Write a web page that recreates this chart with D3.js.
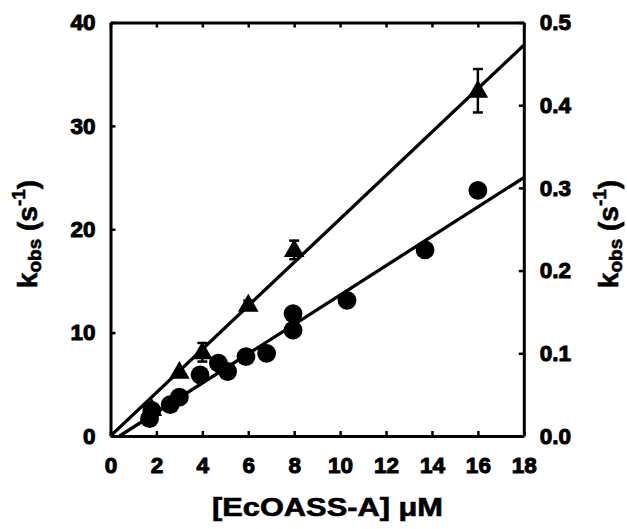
<!DOCTYPE html>
<html><head><meta charset="utf-8">
<script src="https://cdn.jsdelivr.net/npm/d3@7"></script>
<style>
html,body{margin:0;padding:0;background:#fff;}
text{font-family:"Liberation Sans",Arial,sans-serif;font-weight:bold;}
</style></head>
<body><svg id="c" width="627" height="529"></svg>
<script>
// ---- data ----
const xTicks = [0,2,4,6,8,10,12,14,16,18];
const yLeftTicks = [0,10,20,30,40];
const yRightTicks = [0,0.1,0.2,0.3,0.4,0.5];
// triangles (left axis, s^-1)
const triX = [1.8, 3.0, 4.0, 6.0, 8.0, 16.0];
const triY = [2.6, 6.2, 8.1, 12.7, 18.0, 33.4];
const triErr = [0, 0, 0.9, 0.4, 0.9, 2.1];
// circles (right axis, s^-1)
const circX = [1.7, 1.8, 2.6, 3.0, 3.9, 4.7, 5.1, 5.9, 6.8, 7.95, 7.95, 10.3, 13.7, 16.0];
const circY = [0.021, 0.031, 0.038, 0.047, 0.074, 0.088, 0.078, 0.096, 0.100, 0.128, 0.148, 0.164, 0.225, 0.297];
// linear fits
const triFit = [[0, 0], [18, 37.8]];
const circFit = [[0.4, 0], [18, 0.3125]];

const svg = d3.select("#c");
const L = 110.5, R = 523.8, T = 22.5, B = 436;
const x = d3.scaleLinear().domain([0,18]).range([L,R]);
const yL = d3.scaleLinear().domain([0,40]).range([B,T]);
const yR = d3.scaleLinear().domain([0,0.5]).range([B,T]);

const fs = 22.5;
function heavy(sel, w){ sel.attr("stroke","#000").attr("stroke-width",w||1).attr("paint-order","stroke"); }
function styleAxis(g){
  g.selectAll(".domain").attr("stroke","#000").attr("stroke-width",3);
  g.selectAll(".tick line").attr("stroke","#000").attr("stroke-width",2.5);
  g.selectAll("text").attr("font-size",fs).attr("font-family","Liberation Sans, Arial, sans-serif").attr("font-weight","bold").attr("fill","#000").call(heavy, 1);
}
svg.append("g").attr("transform",`translate(0,${B})`)
  .call(d3.axisBottom(x).tickValues(xTicks).tickFormat(d3.format("d")).tickSizeInner(-5).tickSizeOuter(0).tickPadding(21))
  .call(styleAxis);
svg.append("g").attr("transform",`translate(0,${T})`)
  .call(d3.axisTop(x).tickValues(xTicks).tickFormat("").tickSizeInner(-5).tickSizeOuter(0))
  .call(styleAxis);
svg.append("g").attr("transform",`translate(${L},0)`)
  .call(d3.axisLeft(yL).tickValues(yLeftTicks).tickFormat(d3.format("d")).tickSizeInner(-5).tickSizeOuter(0).tickPadding(15))
  .call(styleAxis);
svg.append("g").attr("transform",`translate(${R},0)`)
  .call(d3.axisRight(yR).tickValues(yRightTicks).tickFormat(d3.format(".1f")).tickSizeInner(-5).tickSizeOuter(0).tickPadding(16))
  .call(styleAxis);

// clip
svg.append("clipPath").attr("id","clip").append("rect").attr("x",L).attr("y",T).attr("width",R-L).attr("height",B-T);

const lineL = d3.line().x(d=>x(d[0])).y(d=>yL(d[1]));
const lineR = d3.line().x(d=>x(d[0])).y(d=>yR(d[1]));
svg.append("path").attr("d",lineL(triFit)).attr("stroke","#000").attr("stroke-width",3.3).attr("fill","none").attr("clip-path","url(#clip)");
svg.append("path").attr("d",lineR(circFit)).attr("stroke","#000").attr("stroke-width",3.3).attr("fill","none").attr("clip-path","url(#clip)");

// circles
svg.append("g").selectAll("circle").data(circX.map((v,i)=>[v,circY[i]])).join("circle")
  .attr("cx",d=>x(d[0])).attr("cy",d=>yR(d[1])).attr("r",9.4).attr("fill","#000");

// triangles with error bars
const tri = triX.map((v,i)=>({x:v,y:triY[i],e:triErr[i]}));
const eb = svg.append("g").attr("stroke","#000").attr("stroke-width",2.5);
tri.filter(d=>d.e>0).forEach(d=>{
  const cx = x(d.x), y1 = yL(d.y+d.e), y2 = yL(d.y-d.e);
  eb.append("line").attr("x1",cx).attr("x2",cx).attr("y1",y1).attr("y2",y2);
  eb.append("line").attr("x1",cx-5).attr("x2",cx+5).attr("y1",y1).attr("y2",y1);
  eb.append("line").attr("x1",cx-5).attr("x2",cx+5).attr("y1",y2).attr("y2",y2);
});
const triSym = d3.symbol().type(d3.symbolTriangle).size(185);
svg.append("g").selectAll("path").data(tri).join("path")
  .attr("d",triSym).attr("transform",d=>`translate(${x(d.x)},${yL(d.y)+1})`).attr("fill","#000");

// titles
function kobs(sel){
  sel.append("tspan").text("k");
  sel.append("tspan").attr("font-size",19).attr("dy",4).text("obs");
  sel.append("tspan").attr("dy",-4).text(" (s");
  sel.append("tspan").attr("font-size",19).attr("dy",-12).text("-1");
  sel.append("tspan").attr("dy",12).text(")");
}
svg.append("text").attr("transform","translate(37,234) rotate(-90)").attr("text-anchor","middle").attr("font-size",28).call(kobs).call(heavy, 0.6);
svg.append("text").attr("transform","translate(618,234) rotate(-90)").attr("text-anchor","middle").attr("font-size",28).call(kobs).call(heavy, 0.6);
svg.append("text").attr("x",327.5).attr("y",516).attr("text-anchor","middle").attr("font-size",25)
  .attr("textLength",231).attr("lengthAdjust","spacingAndGlyphs").text("[EcOASS-A] μM").call(heavy, 0.6);
</script></body></html>
